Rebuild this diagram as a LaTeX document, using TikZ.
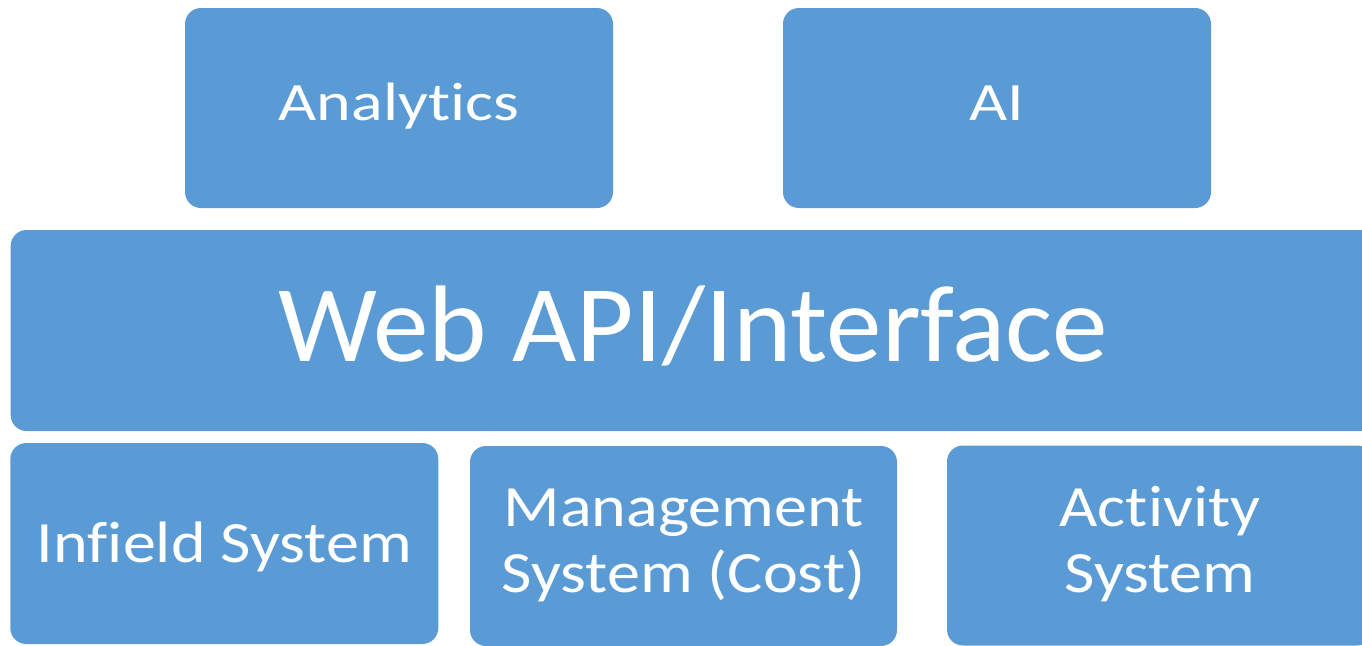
\documentclass[tikz,border=0pt]{standalone}
\usepackage{fontspec}
\setmainfont{Carlito}[Ligatures = NoCommon]
\newfontfamily\upperfont{Carlito}[FakeStretch = 1.22, Ligatures = NoCommon]
\newfontfamily\lowerfont{Carlito}[FakeStretch = 1.13, Ligatures = NoCommon]
\newfontfamily\webfont{Carlito}[FakeStretch = 1.02, Ligatures = NoCommon]
\definecolor{tileblue}{RGB}{91,155,213}

\begin{document}
\begin{tikzpicture}[x = 1pt, y = -1pt,
		tile/.style = {fill = tileblue, text = white, rounded corners = 16pt, inner sep = 0, outer sep = 0, minimum width = 428pt, minimum height = 200pt, align = center},
		uppertile/.style = {tile, font = \upperfont\fontsize{54}{66}\selectfont, text height = 34pt, text depth = 10pt},
		lowertile/.style = {tile, font = \lowerfont\fontsize{58.5}{66}\selectfont}]
			\clip (0,0) rectangle (1362,645); % page frame
			
			\node[uppertile] (analytics) at (399,108){Analytics};
			\node[uppertile] (ai) at (997,108){AI};
			
			\node[tile, minimum width = 1365.3pt, minimum height = 201pt, font = \webfont\fontsize{109}{130}\selectfont, text height = 81pt, text depth = 20pt] (web) at (693.3,330.5){Web API/Interface};
			
			\node[lowertile, minimum height = 201pt, text height = 49pt, text depth = 12pt] (infield) at (224.3,543.5){Infield System};
			\node[lowertile, minimum width = 427pt, text height = 105.4pt, text depth = 12pt] (management) at (683.5,546){Management\\System (Cost)};
			\node[lowertile, minimum width = 426pt, text height = 106.4pt, text depth = 12pt] (activity) at (1160,545.5){Activity\\System};
		\end{tikzpicture}
\end{document}
